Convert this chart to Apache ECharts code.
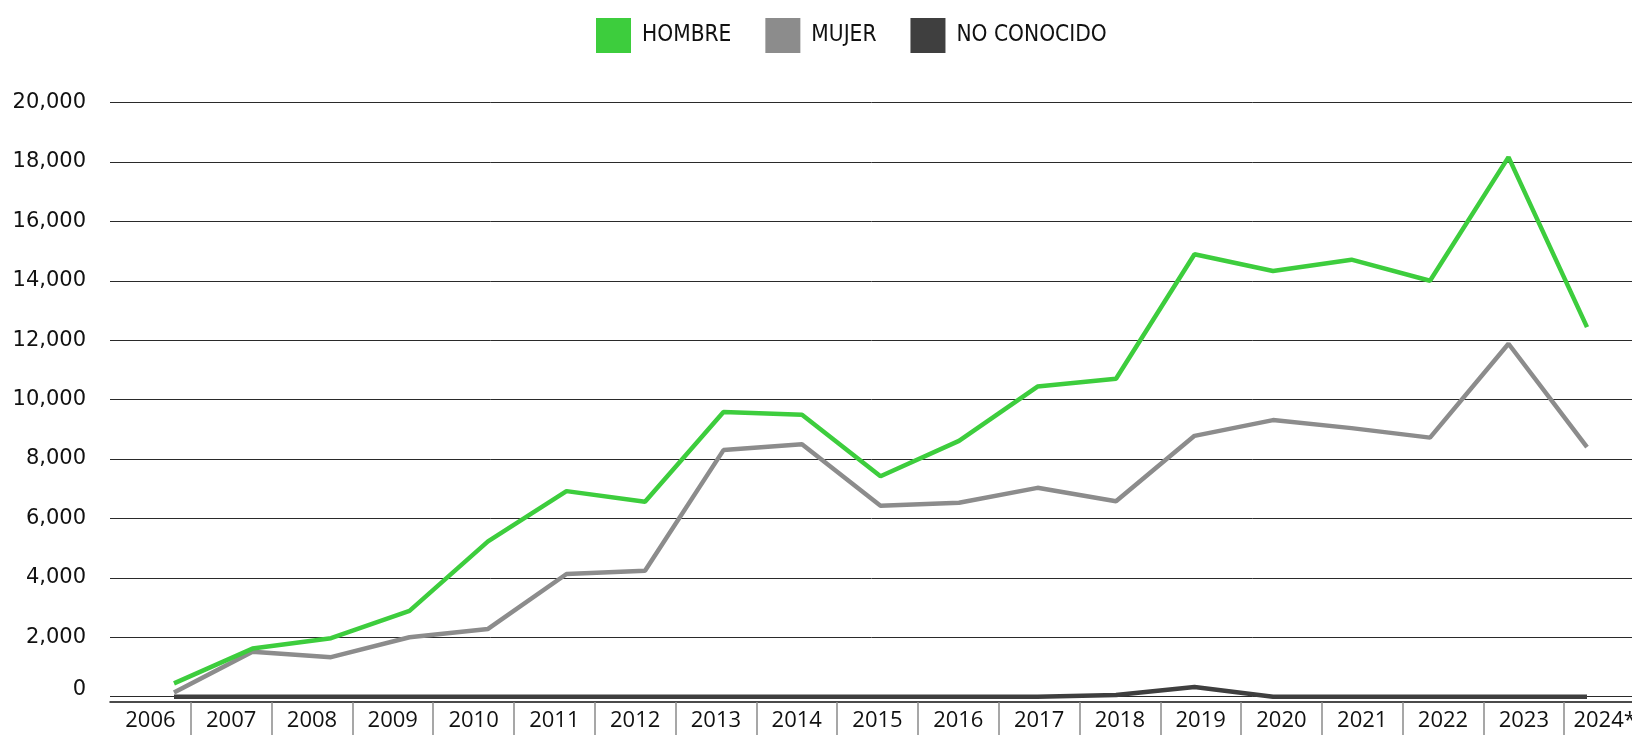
<!DOCTYPE html>
<html>
<head>
<meta charset="utf-8">
<script src="https://cdn.jsdelivr.net/npm/echarts@6/dist/echarts.min.js"></script>
<style>
  html, body { margin: 0; padding: 0; background: #fff; }
  #main { width: 1632px; height: 735px; }
</style>
</head>
<body>
<div id="main"></div>
<script>
// categorias (años)
var years = ['2006', '2007', '2008', '2009', '2010', '2011', '2012', '2013', '2014', '2015',
             '2016', '2017', '2018', '2019', '2020', '2021', '2022', '2023', '2024*'];
// series
var hombre = [450, 1620, 1970, 2890, 5230, 6920, 6560, 9580, 9490, 7420,
              8610, 10440, 10700, 14890, 14330, 14710, 14000, 18160, 12440];
var mujer = [140, 1510, 1330, 2000, 2280, 4130, 4240, 8300, 8500, 6430,
             6530, 7030, 6580, 8780, 9310, 9040, 8720, 11880, 8400];
var noConocido = [0, 0, 0, 0, 0, 0, 0, 0, 0, 0,
                  0, 0, 60, 330, 0, 0, 0, 0, 0];
// eje y
var yMin = 0, yMax = 20000, yStep = 2000;

var names = ['HOMBRE', 'MUJER', 'NO CONOCIDO'];
var colors = ['#3dcd3d', '#8c8c8c', '#3f3f3f'];

function fmt(v) {
  return String(v).replace(/\B(?=(\d{3})+(?!\d))/g, ',');
}

var chart = echarts.init(document.getElementById('main'));
var option = {
  animation: false,
  color: colors,
  legend: {
    left: 591,
    top: 13,
    itemWidth: 35,
    itemHeight: 35,
    itemGap: 34,
    icon: 'rect',
    data: names,
    textStyle: {
      fontFamily: '"Liberation Sans Narrow", "DejaVu Sans Condensed", "Open Sans", sans-serif',
      fontSize: 22.5,
      color: '#111',
      padding: [0, 0, 0, 6]
    }
  },
  grid: [
    // rejilla horizontal
    { left: 110, right: -13, top: 102.5, bottom: 38.3, outerBoundsMode: 'none' },
    // lineas de datos
    { left: 174, right: 45, top: 102.5, bottom: 38.3, outerBoundsMode: 'none' },
    // eje de años (celdas)
    { left: 110, right: -13, bottom: 33, height: 1, outerBoundsMode: 'none' }
  ],
  xAxis: [
    { type: 'category', gridIndex: 0, data: years, show: false },
    { type: 'category', gridIndex: 1, data: years, boundaryGap: false, show: false },
    {
      type: 'category',
      gridIndex: 2,
      data: years,
      boundaryGap: true,
      axisLine: { lineStyle: { color: '#111', width: 1.5 } },
      axisTick: {
        show: true,
        interval: function (index) { return index !== 0; },
        length: 36,
        lineStyle: { color: '#8a8a8a', width: 1.5 }
      },
      axisLabel: {
        interval: 0,
        margin: 8,
        fontFamily: '"Open Sans", sans-serif',
        fontSize: 22,
        color: '#111'
      },
      splitLine: { show: false }
    }
  ],
  yAxis: [
    {
      type: 'value',
      gridIndex: 0,
      min: yMin,
      max: yMax,
      interval: yStep,
      axisLine: { show: false },
      axisTick: { show: false },
      axisLabel: {
        margin: 24,
        fontFamily: '"DejaVu Sans", sans-serif',
        fontSize: 21,
        color: '#111',
        formatter: function (v) {
          return v === 0 ? '{z|0}' : fmt(v);
        },
        rich: {
          z: { fontFamily: '"DejaVu Sans", sans-serif', fontSize: 21, color: '#111', padding: [0, 0, 14, 0] }
        }
      },
      splitLine: { lineStyle: { color: '#2a2a2a', width: 1 } }
    },
    {
      type: 'value', gridIndex: 1, min: yMin, max: yMax, interval: yStep,
      show: false, splitLine: { show: false }
    },
    {
      type: 'value', gridIndex: 2, show: false, splitLine: { show: false }
    }
  ],
  series: [
    {
      name: names[0], type: 'line', xAxisIndex: 1, yAxisIndex: 1,
      data: hombre, showSymbol: false, symbol: 'none', z: 4,
      lineStyle: { color: colors[0], width: 4.5 }
    },
    {
      name: names[1], type: 'line', xAxisIndex: 1, yAxisIndex: 1,
      data: mujer, showSymbol: false, symbol: 'none', z: 3,
      lineStyle: { color: colors[1], width: 4.5 }
    },
    {
      name: names[2], type: 'line', xAxisIndex: 1, yAxisIndex: 1,
      data: noConocido, showSymbol: false, symbol: 'none', z: 2,
      lineStyle: { color: colors[2], width: 4.5 }
    }
  ]
};
chart.setOption(option);
</script>
</body>
</html>
